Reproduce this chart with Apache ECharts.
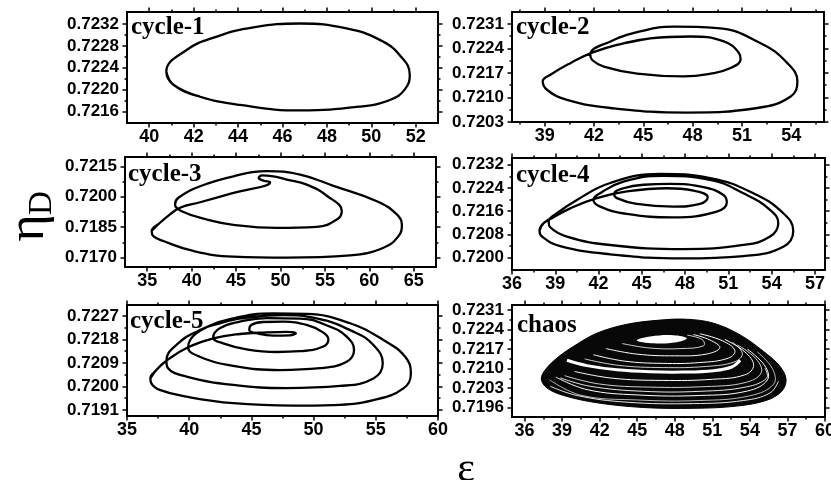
<!DOCTYPE html>
<html>
<head>
<meta charset="utf-8">
<script src="https://cdn.jsdelivr.net/npm/echarts@6/dist/echarts.min.js"></script>
<style>
html, body { margin: 0; padding: 0; background: #fff; }
#chart { width: 831px; height: 480px; }
</style>
</head>
<body>
<div id="chart"></div>
<script>
// ---- phase trajectories (epsilon, n_D) ----
const cycle1Path = [
  [40.77,0.72233],[41.09,0.72209],[42.29,0.72187],[44.09,0.72172],[46.8,0.72162],
  [49.48,0.72169],[50.83,0.72181],[51.5,0.72200],[51.73,0.72227],[51.28,0.72263],
  [50.38,0.72291],[48.88,0.72312],[46.8,0.72321],[44.69,0.72314],[43.04,0.72297],
  [41.7,0.72273]
];

const cycle2Path = [
  [41.88,0.72228],[43.40,0.72250],[45.43,0.72269],[47.87,0.72274],[49.9,0.72260],
  [50.82,0.72227],[50.92,0.72209],[50.31,0.72184],[49.09,0.72168],[47.46,0.72160],
  [44.62,0.72168],[42.59,0.72188],[41.88,0.72207],[41.77,0.72222],[43.0,0.72260],
  [45.02,0.72291],[46.85,0.72302],[49.5,0.72298],[52.14,0.72255],[53.77,0.72198],
  [54.38,0.72146],[53.97,0.72103],[51.94,0.72070],[47.67,0.72057],[43.0,0.72070],
  [40.35,0.72093],[39.13,0.72122],[38.87,0.72146],[39.34,0.72165],[40.55,0.72198]
];

const cycle3Path = [
  [35.50,0.71831],[36.44,0.71872],[37.57,0.71913],[38.69,0.71946],[40.95,0.71973],
  [44.7,0.72019],[48.83,0.72072],[48.08,0.72080],[47.55,0.72092],[47.9,0.72105],
  [49.0,0.72102],[50.7,0.72085],[52.96,0.72060],[55.21,0.72005],[56.9,0.71929],
  [56.34,0.71888],[54.08,0.71852],[49.58,0.71847],[44.7,0.71862],[41.7,0.71888],
  [38.88,0.71929],[38.13,0.71962],[38.51,0.71995],[40.95,0.72052],[44.7,0.72101],
  [48.45,0.72126],[52.21,0.72109],[55.96,0.72054],[60.84,0.71978],[63.09,0.71913],
  [63.66,0.71864],[63.28,0.71806],[61.59,0.71749],[57.84,0.71711],[50.7,0.71700],
  [44.7,0.71705],[40.19,0.71733],[36.82,0.71782],[35.69,0.71806]
];

const cycle4Path = [
  [37.91,0.72093],[38.19,0.72119],[38.88,0.72139],[40.04,0.7217],[41.88,0.72205],
  [43.96,0.72228],[46.73,0.72239],[48.58,0.72231],[49.57,0.72208],[49.04,0.72185],
  [47.19,0.72176],[44.65,0.72185],[43.27,0.72205],[43.08,0.7222],[43.73,0.72239],
  [45.12,0.72251],[46.96,0.72254],[49.27,0.72243],[50.66,0.72216],[50.89,0.7219],
  [50.19,0.72159],[47.19,0.72139],[43.96,0.72151],[42.11,0.72176],[41.65,0.72199],
  [42.11,0.72222],[43.73,0.72262],[46.5,0.72282],[49.73,0.72268],[52.04,0.72222],
  [53.89,0.72165],[54.46,0.72119],[53.89,0.72073],[52.04,0.72044],[47.89,0.7203],
  [42.81,0.72044],[39.81,0.72073],[38.65,0.72105],[38.54,0.72124],[39.11,0.72153],
  [40.5,0.72199],[42.81,0.72257],[46.27,0.72288],[49.73,0.72274],[52.73,0.72222],
  [54.81,0.72153],[55.5,0.72093],[54.81,0.72038],[52.04,0.72006],[47.89,0.71998],
  [42.81,0.72012],[39.34,0.7204],[38.08,0.72073]
];

const cycle5Path = [
  [36.88,0.72031],[37.36,0.72063],[38.17,0.72099],[39.91,0.7215],[41.93,0.72184],
  [44.07,0.72201],[46.22,0.72207],[47.83,0.72209],[48.58,0.72204],[48.1,0.72196],
  [46.76,0.72195],[45.42,0.72204],[44.83,0.72216],[45.01,0.72236],[45.95,0.72247],
  [47.56,0.72248],[49.44,0.72236],[50.65,0.7221],[51.19,0.72181],[50.78,0.72153],
  [48.9,0.72135],[47.03,0.72132],[44.61,0.72142],[42.73,0.72165],[41.93,0.72188],
  [42.46,0.72223],[44.07,0.72248],[46.22,0.72262],[48.9,0.7226],[51.32,0.72229],
  [52.66,0.72191],[53.25,0.7214],[52.66,0.72095],[50.52,0.7207],[47.29,0.72063],
  [43.54,0.72079],[40.85,0.72114],[39.91,0.7215],[40.59,0.72204],[42.46,0.72242],
  [45.15,0.72267],[47.56,0.72273],[50.25,0.72261],[53.2,0.7221],[54.81,0.72159],
  [55.56,0.72089],[54.81,0.72031],[52.13,0.72002],[47.83,0.71994],[43.54,0.72006],
  [39.78,0.72038],[38.3,0.7207],[38.17,0.72099],[38.97,0.72159],[40.85,0.72216],
  [43.54,0.72261],[46.76,0.7228],[49.44,0.72278],[52.93,0.72242],[55.61,0.72178],
  [57.36,0.72114],[57.82,0.7205],[57.22,0.71993],[54.81,0.71948],[51.59,0.71929],
  [48.37,0.71927],[43.54,0.71936],[39.78,0.71961],[37.63,0.71987],[36.96,0.72012]
];

// chaotic attractor: outer envelope, central void and light gaps between strands
const chaosOuter = [
  [37.34,0.72063],[37.66,0.72096],[38.59,0.72138],[39.92,0.7218],[41.78,0.72227],
  [44.18,0.72259],[46.84,0.72274],[48.96,0.72277],[51.09,0.72263],[53.22,0.72221],
  [55.08,0.72162],[56.41,0.72108],[56.89,0.72061],[56.54,0.72019],[55.35,0.71987],
  [52.95,0.71966],[49.49,0.71958],[45.51,0.71961],[41.78,0.71978],[39.12,0.72004],
  [37.79,0.72031]
];
const chaosHole = [
  [44.97,0.72201],[46.04,0.72215],[47.9,0.7222],[48.96,0.72209],[48.16,0.72195],[46.3,0.72191]
];
const chaosGaps = [
  { w: 3.0, pts: [[39.39,0.7213],[40.98,0.72111],[43.38,0.72096],[46.04,0.72089],[48.7,0.72088],[51.09,0.72093],[52.55,0.72106],[53.22,0.7213]] },
  { w: 0.9, pts: [[38.06,0.72037],[40.19,0.72004],[44.18,0.7198],[49.49,0.71975],[53.48,0.71986],[55.61,0.72013],[56.28,0.72055]] },
  { w: 0.7, pts: [[38.0,0.7206],[40.5,0.72005],[45,0.71988],[50,0.71986],[54,0.72003],[55.9,0.72045],[55.8,0.721],[54.6,0.7216]] },
  { w: 1.0, pts: [[38.5,0.7207],[41,0.72025],[45,0.72006],[50,0.72004],[53.8,0.7202],[55.4,0.7206],[55.2,0.7211],[53.8,0.7217]] },
  { w: 0.9, pts: [[38.86,0.72067],[41.25,0.72037],[45.51,0.72019],[50.03,0.72019],[53.75,0.72035],[55.35,0.72067],[55.21,0.72102]] },
  { w: 0.8, pts: [[39.2,0.72075],[42,0.72045],[46,0.72034],[50.5,0.72036],[53.6,0.7205],[54.9,0.72085],[54.5,0.72135],[53,0.72185]] },
  { w: 1.0, pts: [[40.0,0.7209],[43,0.72066],[47,0.72058],[51,0.72062],[53.6,0.72078],[54.3,0.72112],[53.6,0.7216],[52,0.72205]] },
  { w: 1.0, pts: [[41.5,0.7215],[44,0.72127],[47,0.72119],[50,0.72122],[52.3,0.72138],[52.8,0.72165],[51.8,0.722],[50,0.72225]] },
  { w: 0.8, pts: [[40.8,0.72135],[43.5,0.72112],[47,0.72104],[50.5,0.72108],[52.8,0.72125],[53.4,0.72155],[52.6,0.72195]] },
  { w: 1.0, pts: [[42.5,0.72172],[45,0.72152],[48,0.72146],[50.5,0.72152],[51.6,0.72175],[50.8,0.72203],[49.5,0.72222]] },
  { w: 0.8, pts: [[43.8,0.7219],[46,0.72174],[48.5,0.72172],[50.3,0.72182],[50.2,0.72204],[49,0.7222]] }
];

// ---- tick values ----
const p1XTicks = [40,42,44,46,48,50,52],        p1XMinor = [41,43,45,47,49,51];
const p1YTicks = [0.7216,0.7220,0.7224,0.7228,0.7232], p1YMinor = [0.7218,0.7222,0.7226,0.7230];
const p2XTicks = [39,42,45,48,51,54],            p2XMinor = [37.5,40.5,43.5,46.5,49.5,52.5,55.5];
const p2YTicks = [0.7203,0.7210,0.7217,0.7224,0.7231], p2YMinor = [0.72065,0.72135,0.72205,0.72275];
const p3XTicks = [35,40,45,50,55,60,65],         p3XMinor = [37.5,42.5,47.5,52.5,57.5,62.5];
const p3YTicks = [0.7170,0.7185,0.7200,0.7215],  p3YMinor = [0.71775,0.71925,0.72075];
const p4XTicks = [36,39,42,45,48,51,54,57],      p4XMinor = [37.5,40.5,43.5,46.5,49.5,52.5,55.5];
const p4YTicks = [0.7200,0.7208,0.7216,0.7224,0.7232], p4YMinor = [0.7204,0.7212,0.7220,0.7228];
const p5XTicks = [35,40,45,50,55,60],            p5XMinor = [37.5,42.5,47.5,52.5,57.5];
const p5YTicks = [0.7191,0.7200,0.7209,0.7218,0.7227], p5YMinor = [0.71955,0.72045,0.72135,0.72225];
const p6XTicks = [36,39,42,45,48,51,54,57,60],   p6XMinor = [37.5,40.5,43.5,46.5,49.5,52.5,55.5,58.5];
const p6YTicks = [0.7196,0.7203,0.7210,0.7217,0.7224,0.7231], p6YMinor = [0.71995,0.72065,0.72135,0.72205,0.72275];

const panelNames = ['cycle-1','cycle-2','cycle-3','cycle-4','cycle-5','chaos'];

// ---- layout ----
const panels = [
  { rect:[127,12,311,111],  x:[39,53],     y:[0.72139,0.72342], xt:p1XTicks, xm:p1XMinor, yt:p1YTicks, ym:p1YMinor, name:panelNames[0], at:[131,28], paths:[cycle1Path] },
  { rect:[512,12,312,110],  x:[37,56],     y:[0.7203,0.72344],  xt:p2XTicks, xm:p2XMinor, yt:p2YTicks, ym:p2YMinor, name:panelNames[1], at:[516,28], paths:[cycle2Path] },
  { rect:[125,157,311,110], x:[32.5,67.5], y:[0.71654,0.72196], xt:p3XTicks, xm:p3XMinor, yt:p3YTicks, ym:p3YMinor, name:panelNames[2], at:[128,175], paths:[cycle3Path] },
  { rect:[512,158,313,112], x:[36,57.7],   y:[0.71958,0.72343], xt:p4XTicks, xm:p4XMinor, yt:p4YTicks, ym:p4YMinor, name:panelNames[3], at:[516,176], paths:[cycle4Path] },
  { rect:[127,305,311,111], x:[35,60],     y:[0.71887,0.72312], xt:p5XTicks, xm:p5XMinor, yt:p5YTicks, ym:p5YMinor, name:panelNames[4], at:[130,322], paths:[cycle5Path] },
  { rect:[512,305,313,112], x:[35,60],     y:[0.71927,0.72328], xt:p6XTicks, xm:p6XMinor, yt:p6YTicks, ym:p6YMinor, name:panelNames[5], at:[517,326], paths:[] , chaos:true }
];

const labelFont = 'Liberation Sans';
function makeAxis(dim, position, gi, range, ticks, len, withLabels) {
  const a = {
    type: 'value', gridIndex: gi, position: position,
    min: range[0], max: range[1],
    splitLine: { show: false },
    axisLine: { show: false, onZero: false },
    axisTick: { show: true, customValues: ticks, length: len, inside: false,
                lineStyle: { color: '#000', width: 1.5 } },
    axisLabel: { show: false }
  };
  if (withLabels) {
    a.axisLabel = {
      show: true, customValues: ticks,
      formatter: dim === 'x' ? (v => String(Math.round(v))) : (v => v.toFixed(4)),
      color: '#000', fontFamily: labelFont, fontWeight: 'bold',
      fontSize: dim === 'x' ? 18 : 17,
      margin: dim === 'x' ? 5 : 8
    };
  }
  return a;
}

function closeLoop(path) {
  return path.concat(path.slice(0, 3));
}

const grid = [], xAxis = [], yAxis = [], series = [], graphic = [];
panels.forEach((p, gi) => {
  grid.push({
    left: p.rect[0], top: p.rect[1], width: p.rect[2], height: p.rect[3],
    show: true, borderColor: '#000', borderWidth: 2, backgroundColor: 'rgba(0,0,0,0)',
    containLabel: false, outerBoundsMode: 'none'
  });
  const xi = xAxis.length, yi = yAxis.length;
  xAxis.push(makeAxis('x', 'bottom', gi, p.x, p.xt, 4.5, true));
  xAxis.push(makeAxis('x', 'bottom', gi, p.x, p.xm, 2.5, false));
  xAxis.push(makeAxis('x', 'top', gi, p.x, p.xt, 4.5, false));
  xAxis.push(makeAxis('x', 'top', gi, p.x, p.xm, 2.5, false));
  yAxis.push(makeAxis('y', 'left', gi, p.y, p.yt, 4.5, true));
  yAxis.push(makeAxis('y', 'left', gi, p.y, p.ym, 2.5, false));
  yAxis.push(makeAxis('y', 'right', gi, p.y, p.yt, 4.5, false));
  yAxis.push(makeAxis('y', 'right', gi, p.y, p.ym, 2.5, false));

  p.paths.forEach(path => {
    series.push({
      type: 'line', xAxisIndex: xi, yAxisIndex: yi,
      data: closeLoop(path), smooth: 0.45, showSymbol: false, symbol: 'none',
      lineStyle: { color: '#000', width: 2.3 }, silent: true, z: 3
    });
  });

  if (p.chaos) {
    series.push({
      type: 'custom', xAxisIndex: xi, yAxisIndex: yi, data: [0], silent: true, z: 3,
      renderItem: (params, api) => {
        const children = [{
          type: 'polygon',
          shape: { points: chaosOuter.map(d => api.coord(d)), smooth: 0.35 },
          style: { fill: '#080808', stroke: '#000', lineWidth: 1 }
        }];
        chaosGaps.forEach(g => children.push({
          type: 'polyline',
          shape: { points: g.pts.map(d => api.coord(d)), smooth: 0.4 },
          style: { fill: null, stroke: '#fff', lineWidth: g.w }
        }));
        children.push({
          type: 'polygon',
          shape: { points: chaosHole.map(d => api.coord(d)), smooth: 0.4 },
          style: { fill: '#fff' }
        });
        return { type: 'group', children: children };
      }
    });
  }

  graphic.push({
    type: 'text', x: p.at[0], y: p.at[1], z: 10, silent: true,
    style: { text: p.name, font: 'bold 25px "Liberation Serif"', fill: '#000',
             align: 'left', verticalAlign: 'middle' }
  });
});

// axis titles
graphic.push({
  type: 'text', x: 29, y: 228, rotation: Math.PI / 2, z: 10, silent: true,
  style: { text: 'η', font: '52px "Liberation Serif"', fill: '#000', align: 'center', verticalAlign: 'middle' }
});
graphic.push({
  type: 'text', x: 42, y: 203, rotation: Math.PI / 2, z: 10, silent: true,
  style: { text: 'D', font: '33px "Liberation Serif"', fill: '#000', align: 'center', verticalAlign: 'middle' }
});
graphic.push({
  type: 'text', x: 466, y: 470, z: 10, silent: true,
  style: { text: 'ε', font: '42px "Liberation Serif"', fill: '#000', align: 'center', verticalAlign: 'middle' }
});

const chart = echarts.init(document.getElementById('chart'), null, { renderer: 'canvas' });
chart.setOption({
  animation: false,
  backgroundColor: '#fff',
  grid: grid, xAxis: xAxis, yAxis: yAxis, series: series, graphic: graphic
});
</script>
</body>
</html>
